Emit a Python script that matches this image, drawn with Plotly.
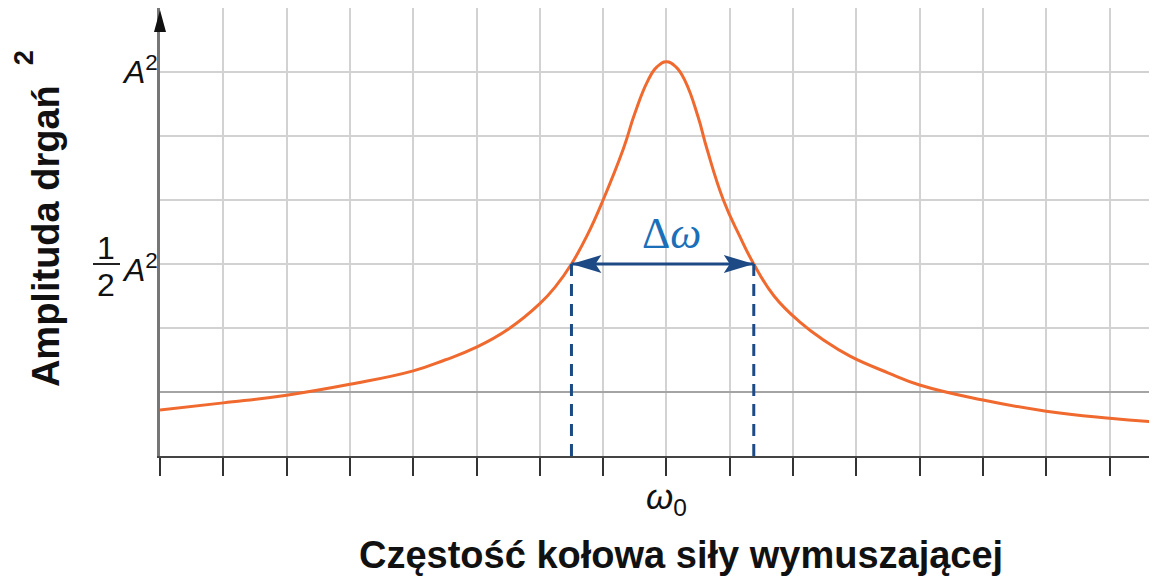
import plotly.graph_objects as go

# driving frequency in grid units (omega_0 sits at 8) and squared amplitude in grid units
omega = [0, 1, 2, 3, 4, 4.5, 5, 5.5, 6, 6.25, 6.5, 6.75, 7, 7.32, 7.5, 7.7, 7.85, 8.0,
         8.15, 8.3, 8.5, 8.64, 8.9, 9.15, 9.38, 9.7, 10.1, 10.5, 10.9, 11.5, 12, 13, 14, 15, 15.75]
amplitude_sq = [0.72, 0.83, 0.95, 1.12, 1.33, 1.50, 1.70, 1.98, 2.38, 2.65, 3.0, 3.45, 4.0, 4.8, 5.35, 5.85, 6.08, 6.16,
                6.08, 5.85, 5.3, 4.8, 4.0, 3.45, 3.0, 2.5, 2.1, 1.8, 1.56, 1.3, 1.11, 0.875, 0.70, 0.59, 0.53]

omega_0 = 8
peak_level = 6          # A^2
half_level = 3          # A^2 / 2
half_left = 6.5         # half-power points
half_right = 9.38
x_range = [0, 15.75]
x_ticks = list(range(0, 16))
y_ticks = list(range(0, 8))
dark_grid_levels = [1]

orange = '#f0692e'
navy = '#1d4a85'
blue = '#1a6fb8'

fig = go.Figure()

# one grid line drawn darker than the rest
for lvl in dark_grid_levels:
    fig.add_trace(go.Scatter(
        x=x_range, y=[lvl, lvl], mode='lines',
        line={'color': '#a4a4a4', 'width': 2},
        hoverinfo='skip', showlegend=False
    ))

fig.add_trace(go.Scatter(
    x=omega, y=amplitude_sq, mode='lines',
    line={'color': orange, 'width': 3, 'shape': 'spline', 'smoothing': 1.3},
    hoverinfo='skip', showlegend=False
))

# dashed drops from the half-power points
for xv in [half_left, half_right]:
    fig.add_trace(go.Scatter(
        x=[xv, xv], y=[0, half_level], mode='lines',
        line={'color': navy, 'width': 3, 'dash': '12px,8px'},
        hoverinfo='skip', showlegend=False
    ))

# bandwidth arrow
fig.add_trace(go.Scatter(
    x=[half_left, half_right], y=[half_level, half_level], mode='lines',
    line={'color': navy, 'width': 3},
    hoverinfo='skip', showlegend=False
))

shapes = []
# arrow heads on the bandwidth line
shapes.append(dict(type='path', xref='x', yref='y', xsizemode='pixel', ysizemode='pixel',
                   xanchor=half_left, yanchor=half_level,
                   path='M0,0 L30,9 L24,0 L30,-9 Z', fillcolor=navy, line={'width': 0}))
shapes.append(dict(type='path', xref='x', yref='y', xsizemode='pixel', ysizemode='pixel',
                   xanchor=half_right, yanchor=half_level,
                   path='M0,0 L-30,9 L-24,0 L-30,-9 Z', fillcolor=navy, line={'width': 0}))
# arrow head on top of the y axis
shapes.append(dict(type='path', xref='paper', yref='y', xsizemode='pixel', ysizemode='pixel',
                   xanchor=0, yanchor=y_ticks[-1],
                   path='M0,-2 L-6,-24 L6,-24 Z', fillcolor='#111', line={'width': 0}))
# fraction bar of 1/2
shapes.append(dict(type='line', xref='paper', yref='y', xsizemode='pixel',
                   xanchor=0, x0=-67, x1=-40, y0=half_level, y1=half_level,
                   line={'color': '#222', 'width': 2}))

label_font = {'family': 'Liberation Sans', 'size': 32, 'color': '#111'}
title_font = {'family': 'Liberation Sans', 'size': 38, 'color': '#111'}
annotations = [
    dict(text='<i>A</i><sup>2</sup>', xref='paper', x=0, xanchor='right', xshift=0,
         yref='y', y=peak_level, yanchor='middle', yshift=2, showarrow=False, font=label_font),
    dict(text='<i>A</i><sup>2</sup>', xref='paper', x=0, xanchor='right', xshift=0,
         yref='y', y=half_level, yanchor='middle', yshift=-4, showarrow=False, font=label_font),
    dict(text='1', xref='paper', x=0, xanchor='center', xshift=-54,
         yref='y', y=half_level, yanchor='bottom', yshift=-4, showarrow=False, font=label_font),
    dict(text='2', xref='paper', x=0, xanchor='center', xshift=-54,
         yref='y', y=half_level, yanchor='top', yshift=-1, showarrow=False, font=label_font),
    dict(text='<i>ω</i><sub>0</sub>', xref='x', x=omega_0, xanchor='center',
         yref='paper', y=0, yanchor='top', yshift=-19, showarrow=False,
         font={'family': 'Liberation Sans', 'size': 35, 'color': '#111'}),
    dict(text='Δ<i>ω</i>', xref='x', x=(half_left + half_right) / 2, xshift=9,
         yref='y', y=half_level, yanchor='bottom', yshift=4, showarrow=False,
         font={'family': 'Liberation Serif', 'size': 44, 'color': blue}),
    dict(text='<b>Amplituda drgań</b>', textangle=-90,
         xref='paper', x=-0.1143, xanchor='center', yref='paper', y=0.491, yanchor='middle',
         showarrow=False, font=title_font),
    dict(text='<b>2</b>', textangle=-90,
         xref='paper', x=-0.137, xanchor='center', yref='paper', y=0.889, yanchor='middle',
         showarrow=False, font={'family': 'Liberation Sans', 'size': 27, 'color': '#111'}),
    dict(text='<b>Częstość kołowa siły wymuszającej</b>',
         xref='paper', x=0.5226, xanchor='center', yref='paper', y=-0.221, yanchor='middle',
         showarrow=False, font=title_font),
]

fig.update_layout(
    width=1157, height=577,
    margin={'l': 152, 'r': 8, 't': 0, 'b': 129},
    plot_bgcolor='white', paper_bgcolor='white',
    shapes=shapes, annotations=annotations,
    xaxis={
        'range': x_range, 'tickmode': 'array', 'tickvals': x_ticks,
        'showticklabels': False,
        'ticks': 'outside', 'ticklen': 18, 'tickwidth': 2, 'tickcolor': '#333',
        'showgrid': True, 'gridcolor': '#d2d2d2', 'gridwidth': 2,
        'showline': True, 'linecolor': '#444', 'linewidth': 2,
        'zeroline': False, 'fixedrange': True,
    },
    yaxis={
        'range': [0, 7], 'tickmode': 'array', 'tickvals': y_ticks,
        'showticklabels': False, 'ticks': '',
        'showgrid': True, 'gridcolor': '#d2d2d2', 'gridwidth': 2,
        'showline': True, 'linecolor': '#777', 'linewidth': 3,
        'zeroline': False, 'fixedrange': True,
    },
)

fig.write_html("out.html")
